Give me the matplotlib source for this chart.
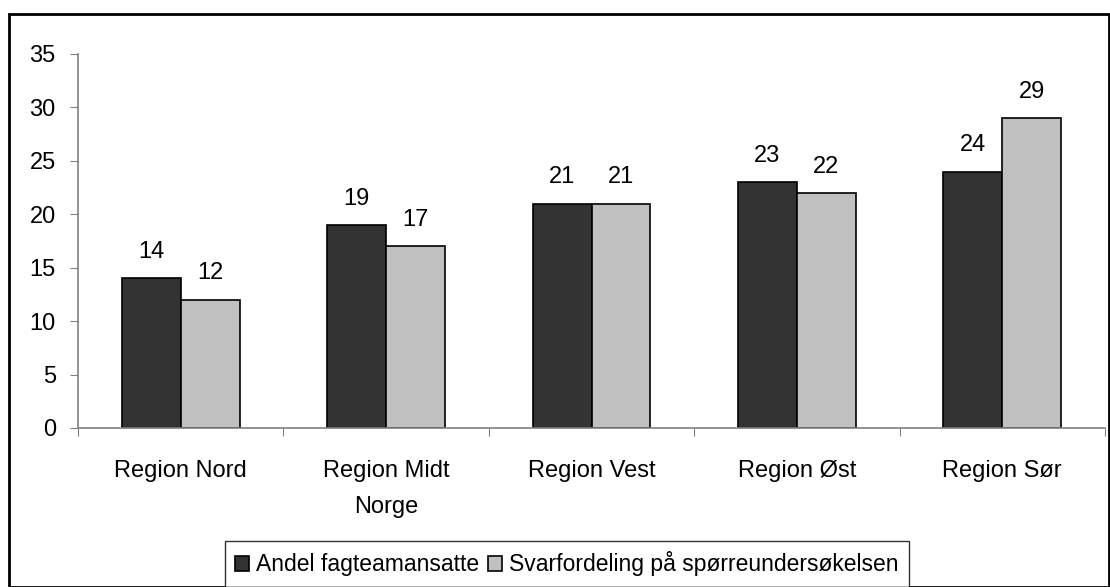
import matplotlib
matplotlib.use("Agg")
import matplotlib.pyplot as plt
import numpy as np
from matplotlib.patches import Rectangle

categories = ["Region Nord", "Region Midt\nNorge", "Region Vest", "Region Øst", "Region Sør"]
andel = [14, 19, 21, 23, 24]
svar = [12, 17, 21, 22, 29]
series_names = ["Andel fagteamansatte", "Svarfordeling på spørreundersøkelsen"]
yticks = [0, 5, 10, 15, 20, 25, 30, 35]

plt.rcParams['font.family'] = ['Liberation Sans', 'DejaVu Sans']
FS = 17

fig = plt.figure(figsize=(11.10, 5.87), dpi=100)
ax = fig.add_axes([78/1110, 1-428/587, (1105-78)/1110, (428-54)/587])

x = np.arange(len(categories))
w = 0.287
b1 = ax.bar(x - w/2, andel, w, color="#333333", edgecolor="black", linewidth=1.2, label=series_names[0])
b2 = ax.bar(x + w/2, svar, w, color="#c0c0c0", edgecolor="black", linewidth=1.2, label=series_names[1])

for bars, vals in ((b1, andel), (b2, svar)):
    for r, v in zip(bars, vals):
        ax.annotate(str(v), (r.get_x() + r.get_width()/2, v), xytext=(0, 11),
                    textcoords="offset points", ha="center", va="bottom", fontsize=FS)

ax.set_xlim(-0.5, len(categories) - 0.5)
ax.set_ylim(0, 35)
ax.set_yticks(yticks)
ax.set_yticklabels([str(t) for t in yticks], fontsize=FS)
ax.set_xticks(np.arange(-0.5, len(categories)), minor=False)
ax.set_xticklabels([])
ax.set_xticks(x, minor=True)
ax.set_xticklabels(categories, minor=True, fontsize=FS, linespacing=1.8)
ax.tick_params(axis="x", which="minor", length=0, pad=23)
ax.tick_params(axis="x", which="major", length=6, color="#808080", direction="out")
ax.tick_params(axis="y", length=6, color="#808080", direction="out", pad=10)
for s in ("top", "right"):
    ax.spines[s].set_visible(False)
for s in ("left", "bottom"):
    ax.spines[s].set_color("#808080")
    ax.spines[s].set_linewidth(1.2)

leg = fig.legend(loc="center", bbox_to_anchor=(567/1110, 1-564/587), ncol=2, fontsize=16.5,
                 frameon=True, fancybox=False, edgecolor="black", handlelength=0.6,
                 handleheight=0.6, handletextpad=0.3, columnspacing=0.4, borderpad=0.45)
leg.get_frame().set_linewidth(1.0)

fig.patches.append(Rectangle((9/1110, 0), 1 - 9/1110 - 0.001, 1 - 14/587, transform=fig.transFigure,
                             fill=False, edgecolor="black", linewidth=2))

fig.savefig("out.png", dpi=100)
